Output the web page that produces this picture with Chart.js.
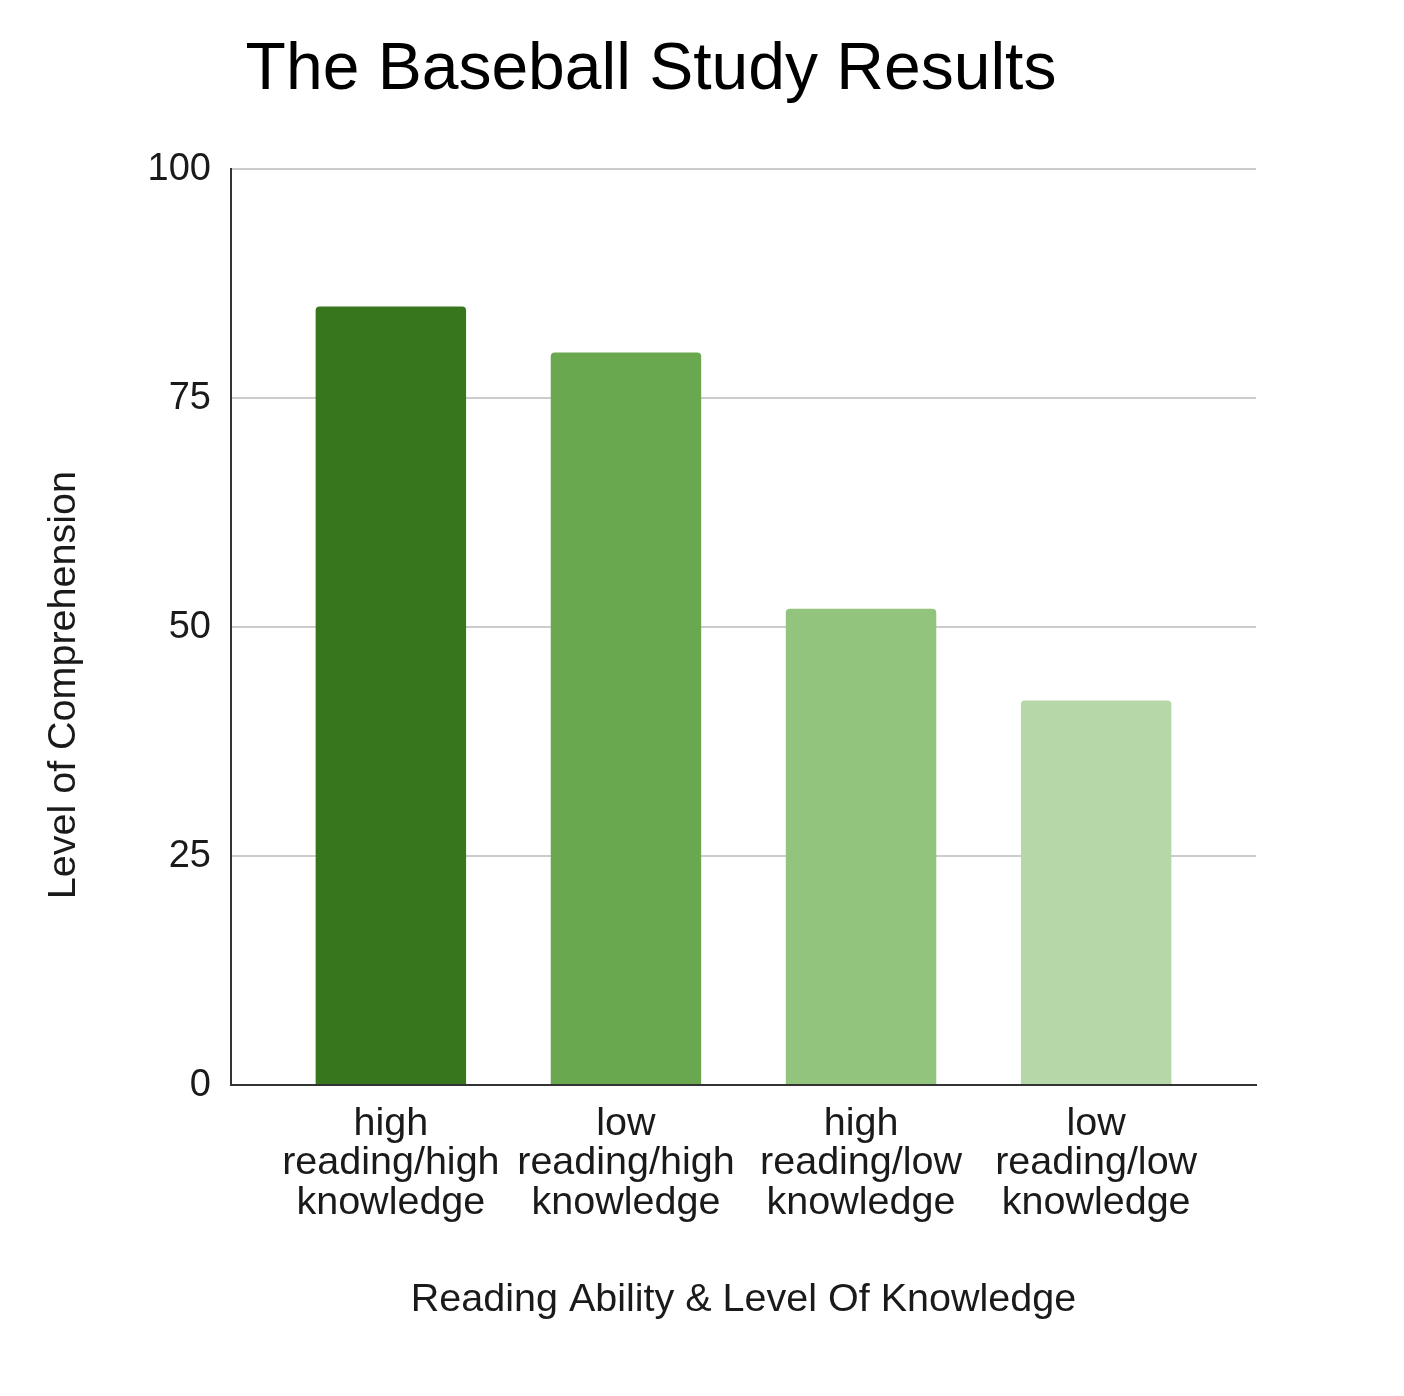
<!DOCTYPE html>
<html>
<head>
<meta charset="utf-8">
<title>The Baseball Study Results</title>
<script src="https://cdn.jsdelivr.net/npm/chart.js@4.4.1/dist/chart.umd.min.js"></script>
<style>
  html, body { margin: 0; padding: 0; background: #fff; }
  #wrap { width: 1404px; height: 1396px; }
</style>
</head>
<body>
<div id="wrap"><canvas id="chart"></canvas></div>
<script>
// Valores
const categories = [
  ["high", "reading/high", "knowledge"],
  ["low", "reading/high", "knowledge"],
  ["high", "reading/low", "knowledge"],
  ["low", "reading/low", "knowledge"],
];
const comprehension = [85, 80, 52, 42];
const yTicks = [0, 25, 50, 75, 100];

const chartTitle = "The Baseball Study Results";
const xTitle = "Reading Ability & Level Of Knowledge";
const yTitle = "Level of Comprehension";

const barColors = ["#38761d", "#6aa84f", "#93c47d", "#b6d7a8"];
const textColor = "#1a1a1a";

Chart.defaults.font.family = '"Liberation Sans", Arial, sans-serif';
Chart.defaults.color = textColor;

// o título do eixo y fica um pouco abaixo do centro, como no original
const yTitlePlugin = {
  id: "yTitle",
  afterDraw(chart) {
    const { ctx, chartArea } = chart;
    ctx.save();
    ctx.translate(64, (chartArea.top + chartArea.bottom) / 2 + 58);
    ctx.rotate(-Math.PI / 2);
    ctx.font = '39.5px "Liberation Sans", Arial, sans-serif';
    ctx.fillStyle = textColor;
    ctx.textAlign = "center";
    ctx.textBaseline = "middle";
    ctx.fillText(yTitle, 0, 0);
    ctx.restore();
  },
};

new Chart(document.getElementById("chart"), {
  type: "bar",
  data: {
    datasets: [
      {
        label: yTitle,
        data: comprehension.map((v, i) => ({ x: i, y: v })),
        backgroundColor: barColors,
        borderRadius: 4,
        borderSkipped: "start",
        barPercentage: 0.64,
        categoryPercentage: 1,
      },
    ],
  },
  options: {
    responsive: true,
    maintainAspectRatio: false,
    animation: false,
    layout: { padding: { left: 46, right: 148, top: 0, bottom: 72 } },
    plugins: {
      legend: { display: false },
      tooltip: { enabled: false },
      title: {
        display: true,
        text: chartTitle,
        color: "#000",
        font: { size: 66, weight: "normal" },
        padding: { top: 31, bottom: 59 },
      },
    },
    scales: {
      x: {
        type: "linear",
        min: -0.68,
        max: 3.68,
        offset: false,
        grid: { display: false, drawTicks: false },
        border: { display: true, color: "#333", width: 2 },
        afterBuildTicks: (s) => {
          s.ticks = categories.map((c, i) => ({ value: i }));
        },
        ticks: {
          autoSkip: false,
          maxRotation: 0,
          padding: 19,
          font: { size: 39.5, lineHeight: 1 },
          callback: (v) => categories[v],
        },
        title: {
          display: true,
          text: xTitle,
          font: { size: 39.5 },
          padding: { top: 35, bottom: 0 },
        },
      },
      y: {
        min: 0,
        max: 100,
        afterBuildTicks: (s) => {
          s.ticks = yTicks.map((v) => ({ value: v }));
        },
        afterFit: (s) => {
          s.width = 185;
        },
        grid: {
          drawTicks: false,
          lineWidth: 2,
          color: (c) => (c.tick && c.tick.value === 0 ? "#333" : "#cccccc"),
        },
        border: { display: true, color: "#333", width: 2 },
        ticks: { padding: 20, font: { size: 38 } },
      },
    },
  },
  plugins: [yTitlePlugin],
});
</script>
</body>
</html>
